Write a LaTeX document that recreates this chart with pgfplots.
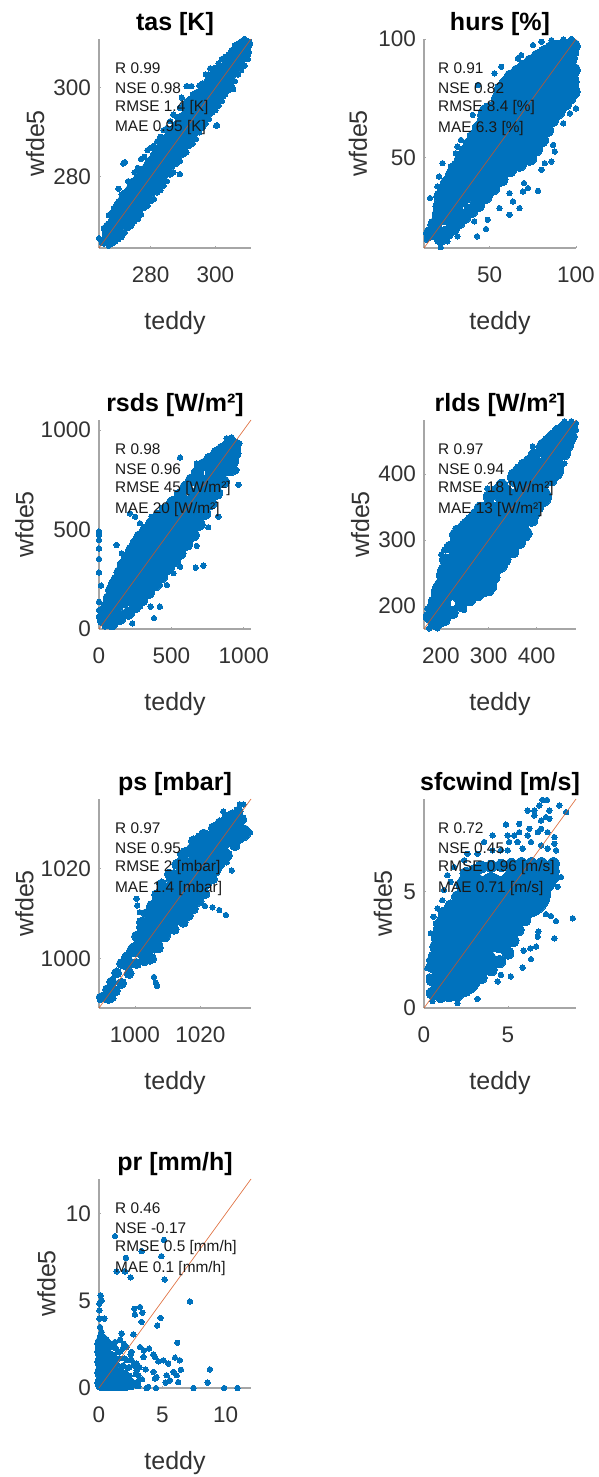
\documentclass[border=0pt]{standalone}
\usepackage{fontspec}
\setmainfont{Liberation Sans}
\usepackage{pgfplots}
\pgfplotsset{compat=1.18}
\definecolor{mblue}{RGB}{0,114,189}
\definecolor{mline}{RGB}{217,83,25}
\definecolor{maxis}{RGB}{166,166,166}
\definecolor{mtext}{RGB}{50,50,50}
\newcommand\pts[2]{\addplot[only marks,mark=*,mark size=#1,mblue,mark options={draw=mblue,fill=mblue,line width=0pt}] coordinates {#2};}
\newcommand\diag[2]{\addplot[mline,line width=0.7pt,opacity=0.8] coordinates {(#1,#1) (#2,#2)};}
\newcommand\stats[5]{%
 \node[anchor=west,inner sep=0pt,text=black!90,font=\fontsize{15.4}{15.4}\selectfont] at (rel axis cs:#1,0.861) {#2};
 \node[anchor=west,inner sep=0pt,text=black!90,font=\fontsize{15.4}{15.4}\selectfont] at (rel axis cs:#1,0.766) {#3};
 \node[anchor=west,inner sep=0pt,text=black!90,font=\fontsize{15.4}{15.4}\selectfont] at (rel axis cs:#1,0.670) {#4};
 \node[anchor=west,inner sep=0pt,text=black!90,font=\fontsize{15.4}{15.4}\selectfont] at (rel axis cs:#1,0.574) {#5};
}
\pgfplotsset{
 geom/.style={scale only axis,width=152pt,height=209pt,anchor=south west,clip=false},
 panel/.style={
  geom,
  axis x line*=bottom,axis y line*=left,
  axis line style={draw=maxis,line width=1.5pt,-},
  tick align=inside,major tick length=2pt,
  every tick/.style={draw=maxis,line width=0.8pt},
  /pgf/number format/assume math mode=true,
  /pgf/number format/set thousands separator={},
  ticklabel style={font=\fontsize{22.5}{22.5}\selectfont,text=mtext},
  xticklabel style={inner sep=0pt,yshift=-19pt},
  yticklabel style={inner sep=0pt,xshift=-8pt},
  xlabel={teddy},ylabel={wfde5},
  every axis x label/.style={at={(axis description cs:0.5,-0.36)},anchor=center,font=\fontsize{25}{25}\selectfont,text=mtext},
  title style={at={(axis description cs:0.5,1.012)},anchor=base,font=\bfseries\fontsize{25}{25}\selectfont,text=black,inner sep=0pt},
 },
 yl/.style={every axis y label/.style={at={(axis description cs:#1,0.5)},anchor=center,rotate=90,font=\fontsize{25}{25}\selectfont,text=mtext}},
 over/.style={geom,hide axis},
}
\begin{document}
\begin{tikzpicture}[x=1pt,y=1pt]
\path[use as bounding box] (0,0) rectangle (598,1477);

% tas
\begin{axis}[panel,at={(99pt,1229pt)},xmin=264,xmax=311,ymin=264,ymax=311,xtick={280,300},ytick={280,300},title={tas [K]},yl=-0.42]
\pts{14}{(272,272)(274,274)(276,276)(278,278)(280,280)(282,282)(284,284)(286,286)(288,288)(290,290)(292,292)(294,294)(296,296)(298,298)(300,300)}
\pts{10}{(268,268)(270,270)(302,302)(304,304)(306,306)(308,308)}
\pts{5}{(265.5,265.5)(266.5,266.5)(310,310)}
\pts{2.7}{(267,269.5)(268,272)(269,272)(270,274.5)(271,276)(272,276.5)(273,279)(274,279)(275,281)(276,282)(277,284)(278,284.5)(279,286)(280,286.5)(281,287)(282,288)(283,289)(284,290.5)(285,291)(286,292.5)(287,294)(288,293.5)(289,295.5)(290,296)(291,297)(292,297.5)(293,298.5)(294,299)(295,300.5)(296,301)(297,303)(298,303)(299,303.5)(300,304.5)(301,305.5)(302,306.5)(303,307)(304,307.5)(305,308.5)(306,309.5)(307,310)(308,310.5)(309,311)
(267,264.5)(268,265)(269,265.5)(270,266)(271,266.5)(272,267.5)(273,268.5)(274,269)(275,270)(276,270.5)(277,271.5)(278,273)(279,273.5)(280,274.5)(281,275)(282,276.5)(283,277)(284,278)(285,279)(286,280.5)(287,281)(288,283)(289,283.5)(290,285)(291,285.5)(292,287)(293,287.5)(294,288.5)(295,290)(296,291)(297,292)(298,293)(299,294.5)(300,295)(301,296)(302,297)(303,298.5)(304,299.5)(305,300.5)(306,301.5)(307,303)(308,304)(309,305)(310,306.5)
(271.5,283)(272,283.3)(289,280.6)(300.2,291.5)(300.5,291.6)(291.1,300.4)(289.6,297.8)(305.5,299.7)(270,277.3)(292.6,300.4)(267,271.4)(265.5,268.5)(264,266.2)(304.6,307.8)(298.4,304.4)}
\end{axis}
\begin{axis}[over,at={(99pt,1229pt)},xmin=264,xmax=311,ymin=264,ymax=311]
\diag{264}{311}
\stats{0.105}{R 0.99}{NSE 0.98}{RMSE 1.4 [K]}{MAE 0.95 [K]}
\end{axis}

% hurs
\begin{axis}[panel,at={(424pt,1229pt)},xmin=12,xmax=100,ymin=12,ymax=100,xtick={50,100},ytick={50,100},title={hurs [\%]},yl=-0.434]
\pts{24}{(55,57.5)(60,63)(65,66)(70,68.5)(75,72)}
\pts{20}{(45,47)(50,52)(80,75)(83,78)}
\pts{16}{(35,37.5)(40,42.5)(87,81)}
\pts{12}{(24,27)(28,31)(32,34)(90,84)(93,86)(90,86)(72,84)(80,86)(60,78)(55,45)(66,55)(76,60)(85,72)(50,68)
(38,48)(49,60)(58,71)(71,80)(85,89)(90,91)(42.5,37.5)(51,45)(61,54)(73,61)(79,66)(85,74)(90,78)}
\pts{10}{(45,35)(50,41)(56,47)(62,50)(68,52)(74,56)(80,62)(85,68)(90,73)(94,78)(96,82)(95,92)(47,62)(52,66)(60,74)(66,81)(76,87)}
\pts{7}{(15.9,18.3)(20.7,25.3)(21.7,33.7)(25.6,39.3)(31.4,46.3)(36.3,52.6)(41.1,58.9)(47,65.9)(53.7,71.5)(56.7,78.5)(62.5,84.1)(70.3,88.3)(78,92.5)(85.8,96)(93.6,97)(98.4,97)
(21.7,16.2)(28.5,20.4)(35.3,25.3)(43.1,30.2)(51.8,37.2)(61.5,44.9)(73.2,49.8)(80,57.5)(85.8,65.9)(93.6,72.9)(98.4,77.8)(98.4,86.9)
(18.3,21.8)(21.2,29.5)(23.6,36.5)(28.5,42.8)(33.8,49.5)(38.7,55.7)(44,62.4)(50.3,68.7)(55.2,75)(59.6,81.3)(66.4,86.2)(74,90.4)(82,94.3)(89.7,96.5)
(25,18.3)(31.9,22.9)(39.2,27.7)(47.4,33.7)(56.6,41)(67.3,47.3)(76.6,53.6)(82.9,61.7)(89.7,69.4)(96,75.3)}
\pts{2.7}{(15.5,33)(14.3,17.6)(13.6,15.5)(21.7,12.3)(25.6,14.8)(31.4,16.9)(42.7,16.9)(41.1,23.2)(47.9,20)(48.9,23.9)(55.7,28.8)(61.5,26)(63.5,31.6)(67.3,28.8)(61.5,35.1)(69.3,35.8)(78,36.1)(72.2,37.2)(69.9,39.3)(80,44.9)(85.8,48.4)(81.9,47.7)(87.7,52.6)(86.8,55.4)(92.6,64.5)(96.5,68.7)(100,70.8)(97.4,75)(20.7,42.1)(22.7,47.7)(27.5,46.3)(30.4,51.9)(33.4,57.5)(40.2,68)(52.8,85.5)(56.7,88.3)(43.1,80.6)(66.4,91.8)(75.1,97.4)(80,98.8)(85.8,99.5)(92.6,99.8)(97.4,100)(100,93.9)(100,86.9)(100,79.9)(68.3,93.2)(64.4,86.9)(54.7,79.9)(31.4,54.7)(25.6,42.1)(19.8,37.9)}
\end{axis}
\begin{axis}[over,at={(424pt,1229pt)},xmin=12,xmax=100,ymin=12,ymax=100]
\diag{12}{100}
\stats{0.092}{R 0.91}{NSE 0.82}{RMSE 8.4 [\%]}{MAE 6.3 [\%]}
\end{axis}

% rsds
\begin{axis}[panel,at={(99pt,848pt)},xmin=0,xmax=1050,ymin=0,ymax=1050,xtick={0,500,1000},ytick={0,500,1000},title={rsds [W/m²]},yl=-0.49]
\pts{17}{(200,220)(250,267)(300,314)(350,355)(400,395)(450,435)(500,476)(550,522)(600,568)}
\pts{13}{(150,170)(650,610)(700,652)(750,710)}
\pts{10}{(100,120)(800,770)(850,815)}
\pts{7}{(60,70)(900,857)(930,890)}
\pts{6}{(29.9,45.2)(53,112)(87.5,196)(122,246)(168,322)(226,397)(283,464)(364,531)(456,598)(560,673)(640,749)(721,824)(813,883)(894,925)(940,925)
(87.5,28)(203,79)(295,146)(387,221)(479,305)(560,380)(652,472)(732,581)(813,682)(905,799)(940,883)
(41,79)(70,154)(105,221)(145,284)(197,360)(254,430)(323,497)(410,565)(508,635)(600,711)(680,786)(767,853)(853,904)
(145,54)(249,112)(341,183)(433,263)(520,342)(606,426)(692,526)(772,631)(859,740)(922,841)}
\pts{2.7}{(0,489)(0,472)(0,447)(0,405)(0,352)(0,283)(14,218)(0,137)(0,95)(0,62)(122,422)(157,380)(168,280)(214,581)(249,564)(560,861)(675,832)(755,824)(732,849)(813,883)(882,958)(917,963)(970,933)(963,724)(951,799)(940,791)(825,564)(755,511)(675,417)(721,318)(668,308)(560,313)(514,280)(468,221)(421,221)(421,112)(380,54)(357,112)(283,112)(230,28)(99,12)(41,12)(675,807)(283,531)(364,564)(836,866)(329,514)}
\end{axis}
\begin{axis}[over,at={(99pt,848pt)},xmin=0,xmax=1050,ymin=0,ymax=1050]
\diag{0}{1050}
\stats{0.105}{R 0.98}{NSE 0.96}{RMSE 45 [W/m²]}{MAE 20 [W/m²]}
\end{axis}

% rlds
\begin{axis}[panel,at={(424pt,848pt)},xmin=165,xmax=482,ymin=165,ymax=482,xtick={200,300,400},ytick={200,300,400},title={rlds [W/m²]},yl=-0.42]
\pts{22}{(262,272)(275,280)(287,288)(300,296)(312,306)(325,316)(337,328)}
\pts{18}{(237,255)(250,263)(350,340)(362,350)}
\pts{16}{(225,247)(375,360)(387,375)}
\pts{13}{(212,227)(400,390)(412,402)}
\pts{10}{(190,190)(200,203)(425,415)(437,430)(450,444)(462,456)
(300,250)(280,240)(260,225)(240,220)(320,265)(340,290)(360,315)(385,340)(410,365)(435,405)
(240,295)(260,320)(280,335)(300,345)(330,370)(360,395)(390,415)(420,440)(215,250)}
\pts{6}{(175.5,184)(186,206)(200,229)(210,270)(231,308)(263,330)(301,366)(353,399)(395,429)(433,457)(458,472)(472,472)
(186,174)(207,179)(242,201)(277,217)(304,229)(318,257)(350,282)(378,310)(402,350)(430,391)(458,431)(472,457)
(181,195)(193,218)(205,250)(220,289)(247,319)(282,348)(327,383)(374,414)(414,443)(445,465)
(196,176)(224,190)(260,209)(290,223)(311,243)(334,270)(364,296)(390,330)(416,370)(444,411)(465,444)}
\pts{2.7}{(201,278)(207,285)(231,318)(238,310)(283,224)(304,220)(380,303)(374,316)(411,364)(451,406)(458,416)(357,409)(297,378)(311,378)(172,196)(171,184)(186,224)(189,229)(175.5,166)(193,166)(249,194)(210,179)(273,212)(405,442)(458,480)(472,480)(482,477)(482,467)(360,411)(419,454)(392,442)}
\end{axis}
\begin{axis}[over,at={(424pt,848pt)},xmin=165,xmax=482,ymin=165,ymax=482]
\diag{165}{482}
\stats{0.092}{R 0.97}{NSE 0.94}{RMSE 18 [W/m²]}{MAE 13 [W/m²]}
\end{axis}

% ps
\begin{axis}[panel,at={(99pt,469pt)},xmin=989,xmax=1035.5,ymin=989,ymax=1035.5,xtick={1000,1020},ytick={1000,1020},title={ps [mbar]},yl=-0.49]
\pts{16}{(1010,1011.7)(1012.5,1013.7)(1015,1015.8)(1017.5,1018)(1020,1020)}
\pts{13}{(1005,1005.8)(1007.5,1008.7)(1022.5,1022.3)}
\pts{9}{(1002.5,1003.8)(1025,1024.6)(1027.5,1026.6)}
\pts{8}{(1003,1007)(1006,1011)(1009,1015)(1012,1018)(1015,1021)(1018,1024)(1021,1025.5)(1024,1027)(1027,1029)(1030,1030.5)
(1003,1001.5)(1006,1003)(1009,1006.5)(1012,1009)(1015,1011)(1018,1014)(1021,1017)(1024,1020)(1027,1023)(1030,1026.5)(1033,1028)}
\pts{7}{(997.5,999)(1000,1002)(1030,1028.6)}
\pts{5}{(990.3,991.5)(992.9,994.8)(995.9,998.9)(999,1001.8)(1002,1008.1)(1005.1,1011.8)(1008.2,1016.6)(1012.8,1021)(1017.9,1026.2)(1024,1029.1)(1028.1,1031.4)(1031.6,1032.8)
(991.9,991.1)(995.9,994.5)(1000.5,998.9)(1005.1,1000)(1009.2,1004.8)(1014.8,1008.1)(1017.9,1011.1)(1021.4,1014.4)(1026,1021)(1030.6,1025.1)(1033.7,1028.4)(1032.7,1031)
(991.6,993.1)(994.4,996.8)(997.5,1000.4)(1000.5,1005)(1003.5,1010)(1006.6,1014.2)(1010.5,1018.8)(1015.3,1023.6)(1021,1027.7)(1026,1030.2)(1029.8,1032)
(994,992.8)(998.2,996.7)(1002.8,999.5)(1007.2,1002.4)(1012,1006.5)(1016.4,1009.6)(1019.6,1012.8)(1023.7,1017.7)(1028.3,1023)(1032.1,1026.8)}
\pts{2.7}{(1000.5,1013.3)(1000.7,1011.8)(1001.5,1010.3)(1005.8,995.9)(1006.4,994.6)(1006.8,993.9)(1004.6,999.3)(1021.4,1011.7)(1023.7,1011.4)(1025.8,1010.8)(1027.8,1009.7)(1029.6,1019.6)(1028.1,1021.4)(1035.2,1028)(1033.2,1034.3)(1032.1,1034.3)(1027,1032.7)(1013.8,1023.2)(1019.4,1027.3)(1015.8,1023.2)(989,991.5)(989.3,990.8)(993.4,991.1)(1013.8,1022.1)}
\end{axis}
\begin{axis}[over,at={(99pt,469pt)},xmin=989,xmax=1035.5,ymin=989,ymax=1035.5]
\diag{989}{1035.5}
\stats{0.105}{R 0.97}{NSE 0.95}{RMSE 2 [mbar]}{MAE 1.4 [mbar]}
\end{axis}

% sfcwind
\begin{axis}[panel,at={(424pt,469pt)},xmin=0,xmax=9.05,ymin=0,ymax=9,xtick={0,5},ytick={0,5},title={sfcwind [m/s]},yl=-0.27]
\pts{26}{(2,2)(3,3.2)(4,3.6)(5,4.6)(6,5)}
\pts{14}{(1.5,3.2)(2,4)(3,4.8)(4,5.2)(3.5,2)(4.5,3)(1.2,1.2)(7,5.5)(2.5,1.2)(2.8,5.3)(5.5,5.5)}
\pts{6}{(.5,.64)(.5,1.79)(.7,2.64)(.9,3.36)(1.2,4.07)(2,4.79)(2.5,5.79)(3.4,6.07)(4.6,6.14)(5.8,6.22)(7,6.22)(7.7,6.22)(7.7,5.64)(7.1,4.93)(6.4,4.22)(5.6,3.36)(5,2.36)(4,1.64)(2.8,.93)(2,.57)(1,.5)
(.5,1.2)(.6,2.2)(.8,3)(1.05,3.7)(1.6,4.4)(2.25,5.3)(2.95,5.9)(4,6.1)(5.2,6.18)(6.4,6.22)(7.7,5.9)(7.4,5.3)(6.75,4.6)(6,3.8)(5.3,2.9)(4.5,2)(3.4,1.3)(2.4,.75)(1.5,.53)}
\pts{2.7}{(7.06,8.96)(7.32,8.96)(6.87,8.72)(6.17,8.5)(6.57,8.5)(8.06,8.72)(8.46,8.43)(7.46,8.5)(7.26,8.22)(6.97,8.07)(6.57,8.29)(7.46,8.15)(6.97,7.72)(7.36,7.57)(6.77,7.57)(6.27,7.72)(5.67,7.93)(4.88,7.9)(6.17,7.43)(5.67,7.57)(5.37,7.43)(4.98,7.43)(4.08,7.43)(3.58,7.15)(7.76,7.36)(7.76,7.07)(7.86,6.79)(6.97,7)(7.36,6.86)(6.37,7.15)(5.57,7.15)(5.07,7.15)(4.58,6.79)(5.87,6.86)(4.98,6.79)(4.08,6.79)(3.18,6.64)(2.59,6.64)(2.39,6.36)(1.79,6.07)(1.39,5.72)(1.59,5.43)(1.19,5.07)(1.09,4.64)(.8,4.29)(.56,3.93)(.7,3.64)(.4,3.22)(.2,1.71)(.3,1.36)(.3,2.07)(7.96,5.22)(8.16,5.64)(8.86,3.86)(7.76,3)(7.86,3.74)(7.26,4.04)(7.56,3.96)(6.81,3.29)(6.77,3.07)(6.67,2.64)(6.33,2.57)(6.37,2.1)(5.93,2.47)(5.87,1.74)(5.17,1.36)(4.58,1.43)(4.38,1.14)(3.18,.39)(1.99,.21)(2.59,.64)(.5,.29)}
\end{axis}
\begin{axis}[over,at={(424pt,469pt)},xmin=0,xmax=9.05,ymin=0,ymax=9]
\addplot[mline,line width=0.7pt,opacity=0.8] coordinates {(0,0) (9.05,9)};
\stats{0.092}{R 0.72}{NSE 0.45}{RMSE 0.96 [m/s]}{MAE 0.71 [m/s]}
\end{axis}

% pr
\begin{axis}[panel,at={(99pt,89pt)},xmin=0,xmax=12,ymin=0,ymax=12,xtick={0,5,10},ytick={0,5,10},title={pr [mm/h]},yl=-0.345]
\pts{8}{(.3,.3)(.3,.9)(.3,1.5)(.3,2.1)(.3,2.55)(.9,.3)(.9,.9)(.9,1.4)(1.4,.3)(1.4,.7)(2,.3)}
\pts{2.7}{(1.26,8.72)(5.13,8.51)(3.37,7.86)(2.13,7.48)(4.92,7.57)(2.05,6.69)(2.5,6.35)(5.18,6.23)(1.39,6.69)(7.18,4.97)(2.79,4.55)(3.24,4.65)(3.42,4.32)(2.84,4.21)(4.87,4.02)(3.37,3.79)(4.6,3.59)(2.71,3.08)(6.18,2.6)(1.79,3.12)(1.66,2.77)(1.97,2.54)
(.13,5.32)(.03,4.84)(.03,4.46)(.21,5.03)(.03,3.98)(.42,3.98)(.08,3.5)(.21,3.21)(.39,2.93)
(3.24,2.35)(3.95,2.26)(3.55,2.16)(4.29,1.93)(4.42,1.78)(5.08,1.59)(4.68,1.53)(5.47,1.4)(6,1.74)(6.39,1.59)(5.87,.92)(6.47,1.05)(8.76,1.07)(8.58,.31)(5.34,.73)(6.13,.73)(5.6,.44)(6.26,.34)(5.26,.31)(4.42,.54)(3.68,1.07)(4.29,.92)(4.55,.63)(7.45,0)(9.89,0)(10.92,0)(4.5,0)(3.89,.06)(3.76,0)(3.11,.1)(2.58,.06)(3.11,.73)(2.58,2.07)(3.5,1.78)(2.97,1.4)(2.58,1.59)(2.97,1.01)(2.18,2.35)(1.26,2.64)(.87,2.54)
(1.5,1.3)(1.6,1.7)(1.9,1.3)(2,1.7)(1.2,1.9)(.9,2)(1.3,2.3)(1.7,2.1)(2.2,1.6)(2.4,1.2)(2.1,.9)(2.4,.7)(2.6,.4)(2.2,.4)(2.9,.8)(2.8,.3)(3.1,.4)(2.5,1.9)(1.9,2.3)(.1,3)(.6,2.8)
(.6,2.3)(1.05,2.35)(1.5,2.05)(1.75,1.1)(2.25,1.15)(1.8,.7)(2.7,1.3)(3.2,1.2)(3.4,.5)(.65,2.65)(1,1.85)(3.0,.1)(2.3,.1)}
\end{axis}
\begin{axis}[over,at={(99pt,89pt)},xmin=0,xmax=12,ymin=0,ymax=12]
\diag{0}{12}
\stats{0.105}{R 0.46}{NSE -0.17}{RMSE 0.5 [mm/h]}{MAE 0.1 [mm/h]}
\end{axis}
\end{tikzpicture}
\end{document}
